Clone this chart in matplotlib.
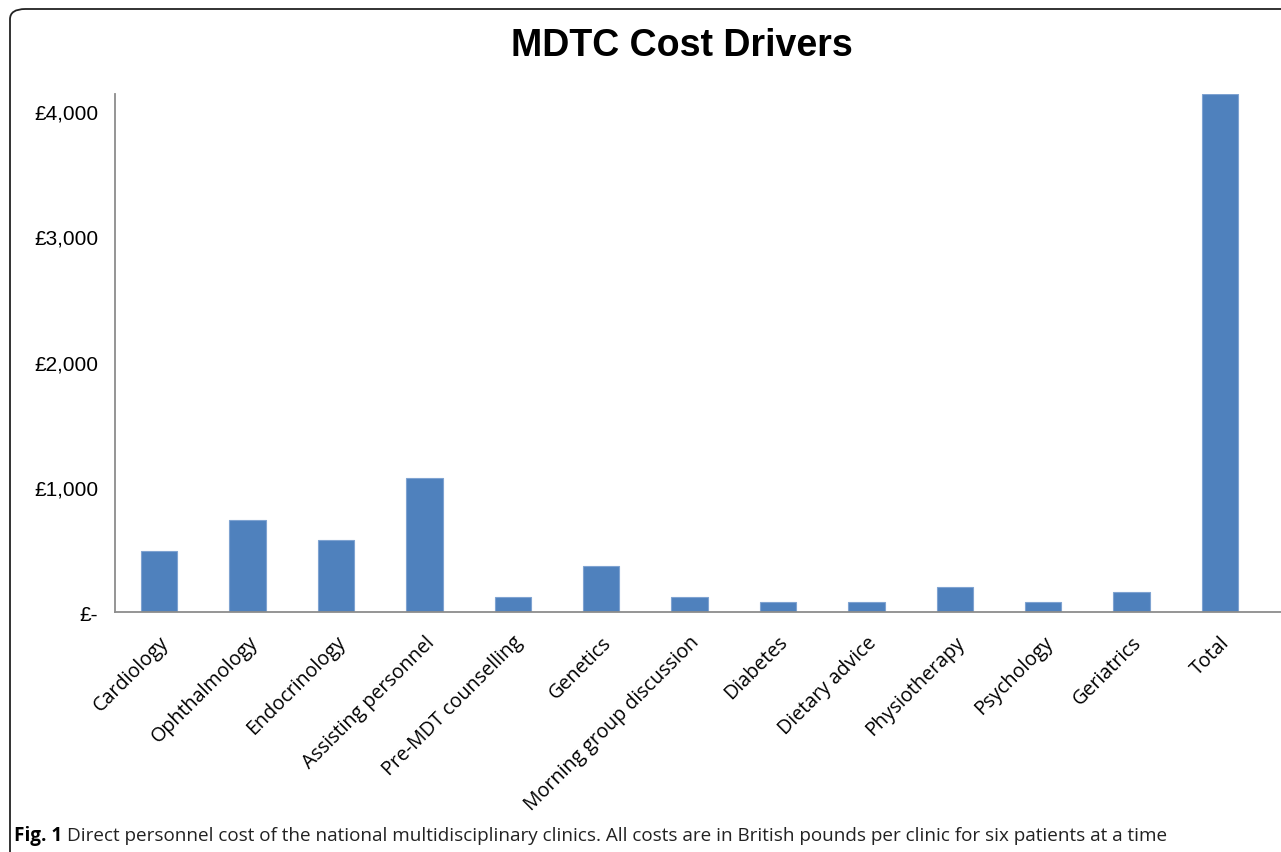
import matplotlib
matplotlib.use("Agg")
import matplotlib.pyplot as plt
from matplotlib.patches import FancyBboxPatch
from matplotlib.ticker import FuncFormatter

categories = ["Cardiology", "Ophthalmology", "Endocrinology", "Assisting personnel",
              "Pre-MDT counselling", "Genetics", "Morning group discussion", "Diabetes",
              "Dietary advice", "Physiotherapy", "Psychology", "Geriatrics", "Total"]
costs = [489, 739, 575, 1069, 122, 367, 120, 80, 80, 200, 80, 160, 4134]
yticks = [0, 1000, 2000, 3000, 4000]

W, H = 1281, 853
fig = plt.figure(figsize=(W / 100, H / 100), dpi=100)

# outer rounded frame
frame = FancyBboxPatch((10 / W, -0.05), 1.1, 1 - 10 / H + 0.05,
                       boxstyle="round,pad=0,rounding_size=0.012",
                       transform=fig.transFigure, fill=False,
                       edgecolor="#222222", linewidth=1.3)
fig.patches.append(frame)

ax = fig.add_axes([115 / W, 1 - 613.3 / H, 1 - 115 / W, (613.3 - 95) / H])
x = list(range(len(categories)))
ax.bar(x, costs, width=0.41, color="#4F81BD", edgecolor="#7FA3D1", linewidth=0.8)
ax.set_xlim(-0.5, 12.69)
ax.set_ylim(0, 4136)
ax.set_yticks(yticks)
ax.yaxis.set_major_formatter(FuncFormatter(lambda v, p: "£-" if v == 0 else f"£{int(v):,}"))
for s in ["top", "right"]:
    ax.spines[s].set_visible(False)
for s in ["left", "bottom"]:
    ax.spines[s].set_color("#8C8C8C")
    ax.spines[s].set_linewidth(1.3)
ax.tick_params(axis="y", length=0, pad=12, labelsize=15)
ax.tick_params(axis="x", length=0, pad=14)
for lab in ax.get_yticklabels():
    lab.set_fontfamily("Liberation Sans")
ax.set_xticks(x)
ax.set_xticklabels(categories, rotation=45, ha="right", rotation_mode="anchor",
                   fontsize=14.2, fontfamily="Open Sans")

fig.text(682 / W, 1 - 46 / H, "MDTC Cost Drivers", ha="center", va="center",
         fontsize=27, fontweight="bold", fontfamily="Liberation Sans")

fig.text(14 / W, 1 - 836 / H, "Fig. 1", ha="left", va="center", fontsize=13.6,
         fontweight="bold", fontfamily="Open Sans")
fig.text(67 / W, 1 - 836 / H,
         "Direct personnel cost of the national multidisciplinary clinics. All costs are in British pounds per clinic for six patients at a time",
         ha="left", va="center", fontsize=13.6, fontfamily="Open Sans", color="#222222")

fig.savefig("out.png", dpi=100)
